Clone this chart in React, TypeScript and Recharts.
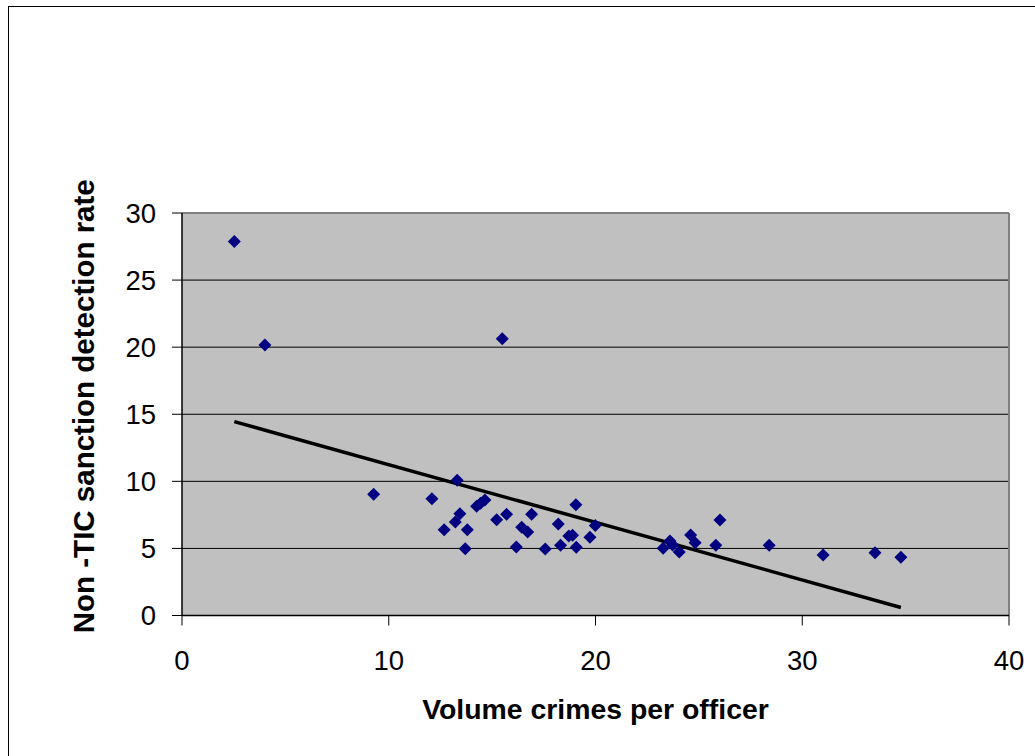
import { ScatterChart, Scatter, XAxis, YAxis, CartesianGrid, ReferenceLine, Label } from 'recharts'

// volume crimes per officer (x) vs non-TIC sanction detection rate (y)
const crimesPerOfficer = [
  2.53, 4.01, 15.49, 9.27, 12.09, 13.31, 12.68, 13.22, 13.44, 13.8, 13.7, 14.25, 14.44, 14.65,
  15.22, 15.7, 16.17, 16.43, 16.72, 16.91, 17.57, 18.2, 18.31, 18.71, 18.89, 19.05, 19.07, 19.73,
  19.99, 23.27, 23.6, 23.73, 24.05, 24.6, 24.82, 25.82, 26.02, 28.4, 31.01, 33.52, 34.77,
]
const detectionRate = [
  27.87, 20.17, 20.62, 9.04, 8.71, 10.08, 6.4, 6.97, 7.59, 6.4, 4.98, 8.14, 8.37, 8.61,
  7.14, 7.54, 5.11, 6.58, 6.23, 7.54, 4.96, 6.82, 5.23, 5.93, 5.98, 8.26, 5.08, 5.83,
  6.7, 5.01, 5.56, 5.26, 4.74, 6.0, 5.43, 5.23, 7.12, 5.23, 4.51, 4.68, 4.34,
]
// linear trend line end points as drawn
const trendX = [2.53, 34.77]
const trendY = [14.45, 0.6]

const xTicks = [0, 10, 20, 30, 40]
const yTicks = [0, 5, 10, 15, 20, 25, 30]

const points = crimesPerOfficer.map((x, i) => ({ x, y: detectionRate[i] }))
const trend = trendX.map((x, i) => ({ x, y: trendY[i] }))

const FONT = '"Liberation Sans", Arial, sans-serif'

function Diamond(props: any) {
  const { cx, cy } = props
  const r = 6.5
  return <polygon points={`${cx},${cy - r} ${cx + r},${cy} ${cx},${cy + r} ${cx - r},${cy}`} fill="#000080" />
}

function YTitle(props: any) {
  const { viewBox } = props
  const cx = viewBox.x + 74
  const cy = viewBox.y + viewBox.height / 2 - 8
  return (
    <text x={cx} y={cy} transform={`rotate(-90 ${cx} ${cy})`} textAnchor="middle" dominantBaseline="central"
      fontFamily={FONT} fontSize={29.5} fontWeight="bold" fill="#000">
      Non -TIC sanction detection rate
    </text>
  )
}

export default function App() {
  return (
    <div style={{ position: 'fixed', left: 8, top: 6, width: 1060, height: 780, border: '1px solid #000', background: '#fff' }}>
      <ScatterChart width={1027} height={740} margin={{ top: 206, right: 27, bottom: 0, left: 0 }}>
        <CartesianGrid vertical={false} stroke="#000" fill="#C0C0C0" fillOpacity={1} />
        <ReferenceLine y={30} stroke="#808080" strokeWidth={2} />
        <ReferenceLine x={40} stroke="#808080" strokeWidth={2} />
        <XAxis type="number" dataKey="x" domain={[0, 40]} ticks={xTicks} height={131.5}
          tickSize={10} tickMargin={25} stroke="#000" axisLine={{ stroke: '#000', strokeWidth: 1.5 }}
          tick={{ fill: '#000', fontSize: 27.5, fontFamily: FONT }} allowDataOverflow>
          <Label value="Volume crimes per officer" position="insideBottom" offset={28}
            style={{ fontSize: 28.4, fontWeight: 'bold', fontFamily: FONT, fill: '#000' }} />
        </XAxis>
        <YAxis type="number" dataKey="y" domain={[0, 30]} ticks={yTicks} width={173}
          tickSize={10} tickMargin={16} stroke="#000" axisLine={{ stroke: '#000', strokeWidth: 1.5 }}
          tick={{ fill: '#000', fontSize: 27.5, fontFamily: FONT }} allowDataOverflow>
          <Label content={<YTitle />} />
        </YAxis>
        <Scatter data={trend} line={{ stroke: '#000', strokeWidth: 3.5 }} shape={() => <g />} isAnimationActive={false} />
        <Scatter data={points} shape={<Diamond />} isAnimationActive={false} />
      </ScatterChart>
    </div>
  )
}
